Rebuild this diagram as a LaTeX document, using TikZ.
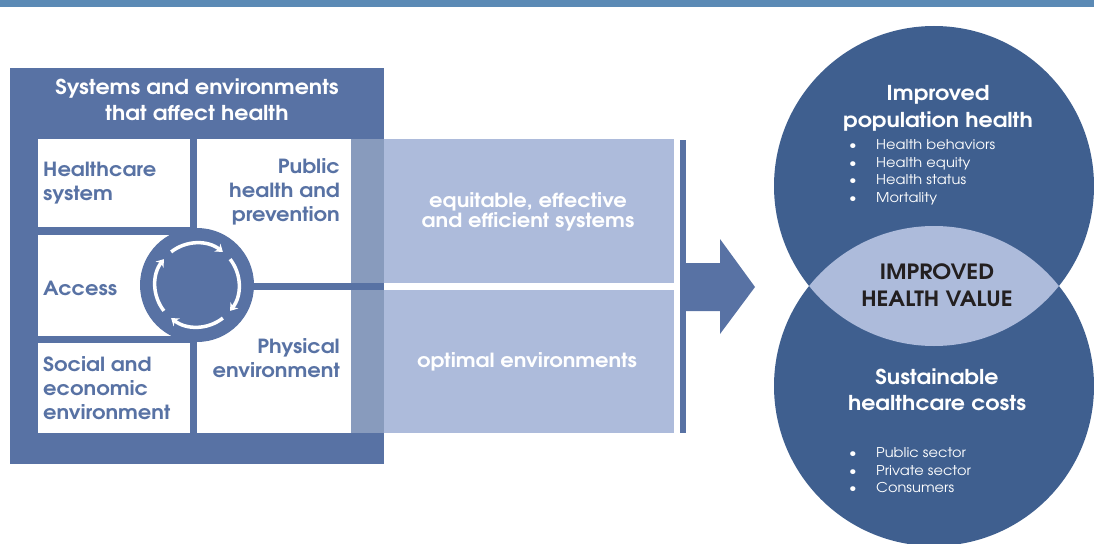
\documentclass[tikz,border=0pt]{standalone}
\usepackage{fontspec}
\setmainfont[FakeStretch=1.08]{TeX Gyre Adventor}
\usetikzlibrary{arrows.meta,positioning}

\definecolor{frameblue}{HTML}{5872A4}
\definecolor{lightblue}{HTML}{ADBBDB}
\definecolor{stripblue}{HTML}{889BBD}
\definecolor{circblue}{HTML}{3F5F8F}
\definecolor{topblue}{HTML}{5B8AB5}
\definecolor{darktext}{HTML}{231F20}

\newcommand{\bull}{\makebox[27pt][l]{\textbullet}}

\tikzset{
  cell/.style={rectangle,fill=white,inner sep=0pt},
  panel/.style={rectangle,fill=lightblue,inner sep=0pt},
  celltext/.style={text=frameblue,inner sep=0pt,font=\fontsize{19.5}{24}\selectfont\bfseries},
  whitetext/.style={text=white,inner sep=0pt,align=center,font=\fontsize{20.5}{26.5}\selectfont\bfseries},
  paneltext/.style={text=white,inner sep=0pt,align=center,font=\fontsize{19.5}{20}\selectfont\bfseries},
  itemtext/.style={text=white,inner sep=0pt,align=left,anchor=west,font=\fontsize{13.5}{17.5}\selectfont},
  venn/.style={circle,fill=circblue,inner sep=0pt,minimum size=320pt}
}

\begin{document}
\begin{tikzpicture}[x=1pt,y=-1pt]
    \useasboundingbox (0,0) rectangle (1094,543);
    \fill[topblue] (0,0) rectangle (1094,7);

    % left block
    \node[rectangle,fill=frameblue,inner sep=0pt,minimum width=374pt,minimum height=396pt] (frame) at (197,266) {};
    \node[whitetext] (title) at (197,100) {Systems and environments\\that affect health};

    \node[cell,minimum width=152pt,minimum height=88pt] (hc) at (114,183) {};
    \node[cell,minimum width=154pt,minimum height=144pt] (ph) at (274,211) {};
    \node[cell,minimum width=159pt,minimum height=101pt] (acc) at (117.5,285.5) {};
    \node[cell,minimum width=152pt,minimum height=90pt] (soc) at (114,388) {};
    \node[cell,minimum width=154pt,minimum height=143pt] (phys) at (274,361.5) {};

    \node[celltext,align=left,anchor=west] (hctext) at (43,183) {Healthcare\\system};
    \node[celltext,align=right,anchor=east] (phtext) at (340,192) {Public\\health and\\prevention};
    \node[celltext,anchor=west] (acctext) at (43,288) {Access};
    \node[celltext,align=left,anchor=west] (soctext) at (43,388) {Social and\\economic\\environment};
    \node[celltext,align=right,anchor=east] (phystext) at (340,358.5) {Physical\\environment};

    \node[circle,fill=frameblue,inner sep=0pt,minimum size=114pt] (ring) at (197,285) {};
    \foreach \a in {0,-90,-180,-270}
        \draw[white,line width=3.5pt,-{Stealth[length=7pt,width=10pt]}]
            ([shift={(\a+128:42pt)}]ring.center) arc[start angle=\a+128,end angle=\a+52,radius=42pt];

    % middle panels
    \node[panel,minimum width=323pt,minimum height=144pt] (eq) at (512.5,211) {};
    \node[panel,minimum width=323pt,minimum height=143pt] (opt) at (512.5,361.5) {};
    \fill[stripblue] (eq.north west) rectangle ([xshift=33pt]eq.south west);
    \fill[stripblue] (opt.north west) rectangle ([xshift=33pt]opt.south west);
    \node[paneltext] (eqtext) at (528,212) {equitable, effective\\and efficient systems};
    \node[paneltext] (opttext) at (527,362) {optimal environments};

    \node[rectangle,fill=frameblue,inner sep=0pt,minimum width=6pt,minimum height=293pt] (bar) at (683,286.5) {};
    \fill[frameblue] (686,263) -- (720,263) -- (720,239) -- (755,287) -- (720,334) -- (720,311) -- (686,311) -- cycle;

    % outcome circles
    \node[venn] (cost) at (934,386) {};
    \node[venn] (pop) at (934,186) {};
    \begin{scope}
        \clip (pop.center) circle[radius=160pt];
        \fill[lightblue] (cost.center) circle[radius=160pt];
    \end{scope}

    \node[whitetext] (poptitle) at (938,108.5) {Improved\\population health};
    \node[itemtext] (popitems) at (849,172.5) {\bull Health behaviors\\\bull Health equity\\\bull Health status\\\bull Mortality};
    \node[whitetext,text=darktext,font=\fontsize{21}{27}\selectfont\bfseries] (value) at (937,285.5) {IMPROVED\\HEALTH VALUE};
    \node[whitetext] (costtitle) at (937,390) {Sustainable\\healthcare costs};
    \node[itemtext] (costitems) at (849,470.5) {\bull Public sector\\\bull Private sector\\\bull Consumers};
\end{tikzpicture}
\end{document}
